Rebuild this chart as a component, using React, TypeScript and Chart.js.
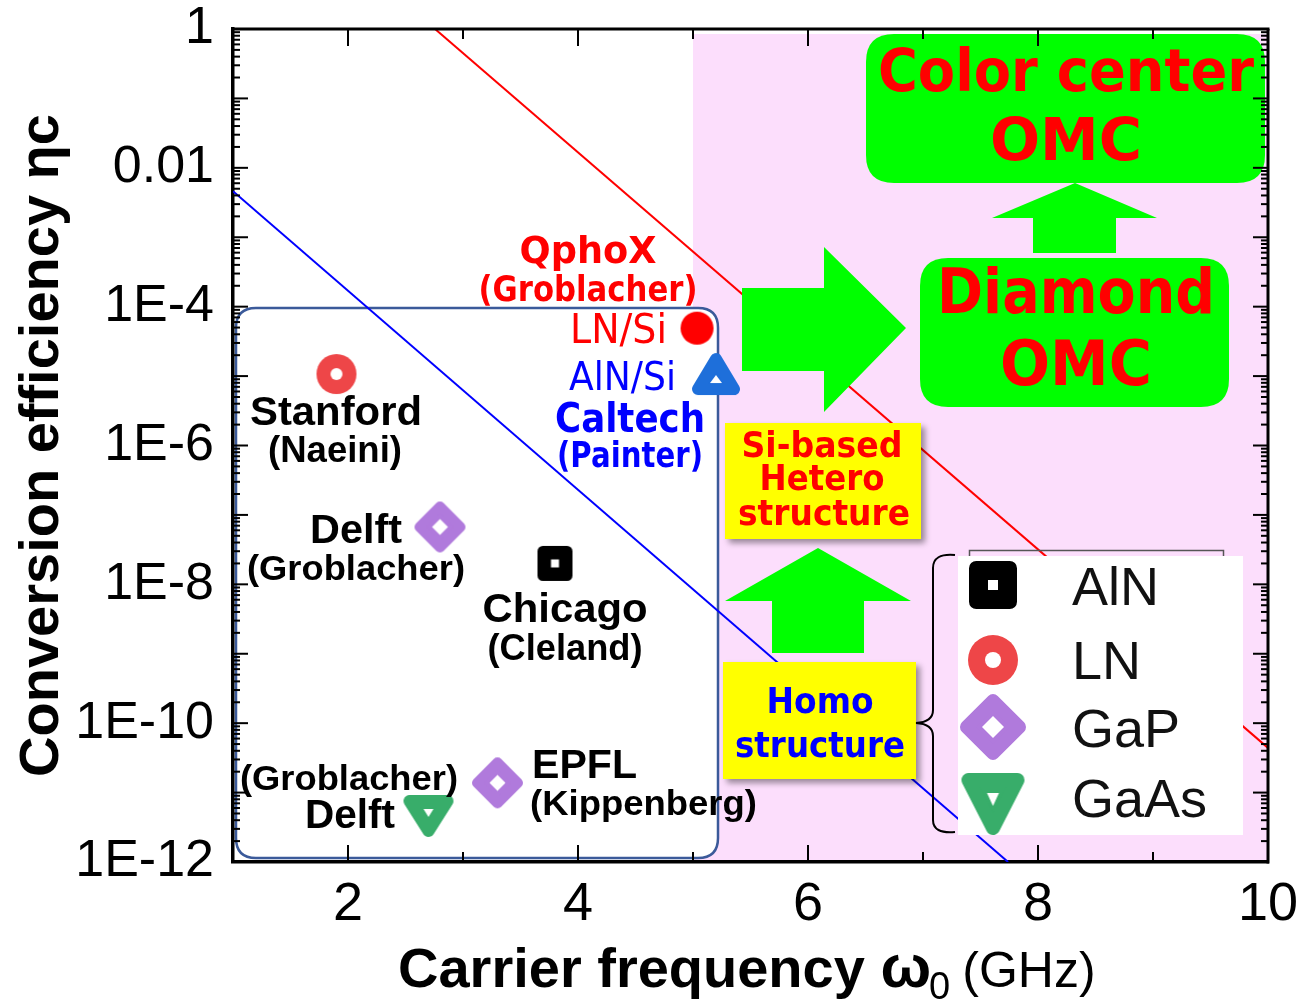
import React, { useEffect, useRef } from 'react';
import { Chart, registerables } from 'chart.js';

Chart.register(...registerables);

// ---------- data ----------
const xTickValues = [2, 4, 6, 8, 10];
const yTickValues = [1e-12, 1e-10, 1e-8, 1e-6, 1e-4, 1e-2, 1];
const yTickLabels = ['1E-12', '1E-10', '1E-8', '1E-6', '1E-4', '0.01', '1'];

const seriesNames = ['AlN', 'LN', 'GaP', 'GaAs', 'LN/Si', 'AlN/Si'];
const alnFreq = [3.8];
const alnEff = [2.0e-8];
const lnFreq = [1.9];
const lnEff = [1.07e-5];
const gapFreq = [2.8, 3.3];
const gapEff = [6.7e-8, 1.38e-11];
const gaasFreq = [2.7];
const gaasEff = [4.6e-12];
const lnSiFreq = [5.035];
const lnSiEff = [4.9e-5];
const alnSiFreq = [5.2];
const alnSiEff = [1.07e-5];

const redLineFreq = [2.757, 10];
const redLineEff = [1, 4.4e-11];
const blueLineFreq = [1, 7.74];
const blueLineEff = [4.6e-3, 1e-12];

const pinkStartFreq = 5;

// ---------- styles ----------
const ARIAL = '"Liberation Sans", Arial, sans-serif';
const VERDANA = '"DejaVu Sans", Verdana, sans-serif';
const C_LN = '#EE4648';
const C_GAP = '#B07ADC';
const C_GAAS = '#38AD6A';
const C_ALNSI = '#1E6FDA';
const C_LNSI = '#FF0000';
const C_ALN = '#000000';
const GREEN = '#00FF00';
const YELLOW = '#FFFF00';
const PINK = '#FCDEFC';

type Ctx = CanvasRenderingContext2D;

function mk(w: number, h: number, draw: (g: Ctx) => void): HTMLCanvasElement {
  const c = document.createElement('canvas');
  c.width = Math.ceil(w);
  c.height = Math.ceil(h);
  const g = c.getContext('2d') as Ctx;
  g.translate(c.width / 2, c.height / 2);
  draw(g);
  return c;
}

function poly(g: Ctx, pts: number[][], color: string, lw: number) {
  g.beginPath();
  pts.forEach(([px, py], i) => (i ? g.lineTo(px, py) : g.moveTo(px, py)));
  g.closePath();
  g.fillStyle = color;
  g.fill();
  if (lw > 0) {
    g.lineJoin = 'round';
    g.lineWidth = lw;
    g.strokeStyle = color;
    g.stroke();
  }
}

function ringMarker(r: number, hole: number, color: string) {
  return mk(2 * r + 2, 2 * r + 2, (g) => {
    g.beginPath();
    g.arc(0, 0, r, 0, Math.PI * 2);
    g.fillStyle = color;
    g.fill();
    if (hole > 0) {
      g.beginPath();
      g.arc(0, 0, hole, 0, Math.PI * 2);
      g.fillStyle = '#fff';
      g.fill();
    }
  });
}

function diamondMarker(d: number, hole: number, color: string) {
  const lw = d * 0.4;
  const di = d - lw / 2;
  return mk(2 * d + 2, 2 * d + 2, (g) => {
    poly(g, [[0, -di], [di, 0], [0, di], [-di, 0]], color, lw);
    poly(g, [[0, -hole], [hole, 0], [0, hole], [-hole, 0]], '#fff', 0);
  });
}

function squareMarker(s: number, hole: number, color: string) {
  const lw = s * 0.3;
  const si = s / 2 - lw / 2;
  return mk(s + 2, s + 2, (g) => {
    poly(g, [[-si, -si], [si, -si], [si, si], [-si, si]], color, lw);
    g.fillStyle = '#fff';
    g.fillRect(-hole / 2, -hole / 2, hole, hole);
  });
}

function triMarker(w: number, h: number, down: boolean, lw: number, holePts: number[][], color: string) {
  const hw = w / 2 - lw / 2;
  const hh = h / 2 - lw / 2;
  const pts = down
    ? [[-hw, -hh], [hw, -hh], [0, hh]]
    : [[0, -hh], [hw, hh], [-hw, hh]];
  return mk(w + 2, h + 2, (g) => {
    poly(g, pts, color, lw);
    poly(g, holePts, '#fff', 0);
  });
}

function rrect(ctx: Ctx, x: number, y: number, w: number, h: number, r: number) {
  ctx.beginPath();
  ctx.moveTo(x + r, y);
  ctx.lineTo(x + w - r, y);
  ctx.quadraticCurveTo(x + w, y, x + w, y + r);
  ctx.lineTo(x + w, y + h - r);
  ctx.quadraticCurveTo(x + w, y + h, x + w - r, y + h);
  ctx.lineTo(x + r, y + h);
  ctx.quadraticCurveTo(x, y + h, x, y + h - r);
  ctx.lineTo(x, y + r);
  ctx.quadraticCurveTo(x, y, x + r, y);
  ctx.closePath();
}

function txt(
  ctx: Ctx,
  s: string,
  x: number,
  y: number,
  size: number,
  o: { bold?: boolean; family?: string; color?: string; align?: CanvasTextAlign; width?: number } = {}
) {
  ctx.save();
  ctx.font = `${o.bold ? 'bold ' : ''}${size}px ${o.family || ARIAL}`;
  ctx.fillStyle = o.color || '#000';
  ctx.textAlign = o.align || 'center';
  ctx.textBaseline = 'alphabetic';
  ctx.translate(x, y);
  if (o.width) {
    const w = ctx.measureText(s).width;
    const k = Math.max(0.7, Math.min(1.3, o.width / w));
    ctx.scale(k, 1);
  }
  ctx.fillText(s, 0, 0);
  ctx.restore();
}

function arrow(ctx: Ctx, pts: number[][]) {
  ctx.beginPath();
  pts.forEach(([px, py], i) => (i ? ctx.lineTo(px, py) : ctx.moveTo(px, py)));
  ctx.closePath();
  ctx.fillStyle = GREEN;
  ctx.fill();
}

function line(ctx: Ctx, x1: number, y1: number, x2: number, y2: number) {
  ctx.beginPath();
  ctx.moveTo(x1, y1);
  ctx.lineTo(x2, y2);
  ctx.stroke();
}

function pts(fx: number[], fy: number[]) {
  return fx.map((v, i) => ({ x: v, y: fy[i] }));
}

export default function App() {
  const ref = useRef<HTMLCanvasElement>(null);

  useEffect(() => {
    const canvas = ref.current;
    if (!canvas) return;

    const plotMarkers = {
      AlN: squareMarker(35, 8, C_ALN),
      LN: ringMarker(20, 6, C_LN),
      GaP: diamondMarker(25.5, 8, C_GAP),
      GaAs: triMarker(50, 42, true, 12, [[-5, -7], [5, -7], [0, 1]], C_GAAS),
      LNSi: ringMarker(16.5, 0, C_LNSI),
      AlNSi: triMarker(48, 42, false, 12, [[0, 1], [6, 9], [-6, 9]], C_ALNSI),
    };
    const legendMarkers = [
      squareMarker(48, 10, C_ALN),
      ringMarker(25, 8, C_LN),
      diamondMarker(33, 11, C_GAP),
      triMarker(63, 62, true, 14, [[-6, -11], [6, -11], [0, 2]], C_GAAS),
    ];

    const annotations = {
      id: 'annotations',
      beforeDraw(chart: any) {
        const { ctx, chartArea: a, scales } = chart;
        const x = scales.x;
        ctx.save();
        const p5 = x.getPixelForValue(pinkStartFreq);
        ctx.fillStyle = PINK;
        ctx.fillRect(p5, a.top + 5, a.right - p5, a.bottom - a.top - 5);
        // white rounded frame around homo-structure results
        rrect(ctx, 236, 308, 482, 550, 20);
        ctx.fillStyle = '#fff';
        ctx.fill();
        ctx.lineWidth = 2.5;
        ctx.strokeStyle = '#3B5A9A';
        ctx.stroke();
        ctx.restore();
      },
      afterDatasetsDraw(chart: any) {
        const { ctx, chartArea: a, scales } = chart;
        const x = scales.x;
        const y = scales.y;
        ctx.save();

        // green arrows
        arrow(ctx, [[742, 288], [824, 288], [824, 247], [906, 328], [824, 412], [824, 371], [742, 371]]);
        arrow(ctx, [[1033, 253], [1033, 218], [992, 218], [1075, 183], [1157, 218], [1116, 218], [1116, 253]]);
        arrow(ctx, [[772, 653], [772, 601], [725, 601], [818, 548], [911, 601], [864, 601], [864, 653]]);

        // green rounded boxes
        ctx.fillStyle = GREEN;
        rrect(ctx, 866, 34, 399, 149, 28);
        ctx.fill();
        rrect(ctx, 920, 258, 309, 149, 28);
        ctx.fill();
        txt(ctx, 'Color center', 1066, 91, 58, { bold: true, family: VERDANA, color: '#FF0000', width: 376 });
        txt(ctx, 'OMC', 1066, 160, 58, { bold: true, family: VERDANA, color: '#FF0000', width: 152 });
        txt(ctx, 'Diamond', 1076, 313, 62, { bold: true, family: VERDANA, color: '#FF0000', width: 278 });
        txt(ctx, 'OMC', 1076, 385, 62, { bold: true, family: VERDANA, color: '#FF0000', width: 152 });

        // yellow boxes with shadow
        ctx.save();
        ctx.shadowColor = 'rgba(0,0,0,0.4)';
        ctx.shadowBlur = 6;
        ctx.shadowOffsetX = 4;
        ctx.shadowOffsetY = 4;
        ctx.fillStyle = YELLOW;
        ctx.fillRect(725, 423, 196, 116);
        ctx.fillRect(723, 662, 193, 117);
        ctx.restore();
        txt(ctx, 'Si-based', 822, 457, 36, { bold: true, family: VERDANA, color: '#FF0000', width: 161 });
        txt(ctx, 'Hetero', 822, 490, 36, { bold: true, family: VERDANA, color: '#FF0000', width: 125 });
        txt(ctx, 'structure', 824, 525, 36, { bold: true, family: VERDANA, color: '#FF0000', width: 172 });
        txt(ctx, 'Homo', 820, 713, 36, { bold: true, family: VERDANA, color: '#0000FF', width: 107 });
        txt(ctx, 'structure', 820, 757, 36, { bold: true, family: VERDANA, color: '#0000FF', width: 170 });

        // legend
        ctx.strokeStyle = '#555';
        ctx.lineWidth = 1.5;
        ctx.strokeRect(969.5, 550.5, 254, 120);
        ctx.fillStyle = '#fff';
        ctx.fillRect(958, 556, 285, 279);
        const legY = [585, 660, 727, 804];
        const legBase = [605, 679, 747, 817];
        const ds = chart.data.datasets;
        for (let i = 0; i < 4; i++) {
          const m = legendMarkers[i];
          ctx.drawImage(m, 993 - m.width / 2, legY[i] - m.height / 2);
          txt(ctx, ds[i].label, 1072, legBase[i], 54, { color: '#111', align: 'left' });
        }
        // brace
        ctx.strokeStyle = '#000';
        ctx.lineWidth = 2;
        ctx.beginPath();
        ctx.moveTo(955, 555);
        ctx.quadraticCurveTo(933, 553, 933, 568);
        ctx.lineTo(933, 710);
        ctx.quadraticCurveTo(933, 722, 916, 723);
        ctx.quadraticCurveTo(933, 724, 933, 736);
        ctx.lineTo(933, 820);
        ctx.quadraticCurveTo(933, 834, 955, 832);
        ctx.stroke();

        // point labels
        txt(ctx, 'QphoX', 588, 263, 38, { bold: true, family: VERDANA, color: '#FF0000', width: 137 });
        txt(ctx, '(Groblacher)', 588, 301, 36, { bold: true, family: VERDANA, color: '#FF0000', width: 219 });
        txt(ctx, 'LN/Si', 667, 343, 40, { family: VERDANA, color: '#FF0000', align: 'right', width: 97 });
        txt(ctx, 'AlN/Si', 676, 390, 39, { family: VERDANA, color: '#0000FF', align: 'right', width: 107 });
        txt(ctx, 'Caltech', 630, 432, 40, { bold: true, family: VERDANA, color: '#0000FF', width: 150 });
        txt(ctx, '(Painter)', 630, 467, 35, { bold: true, family: VERDANA, color: '#0000FF', width: 146 });
        txt(ctx, 'Stanford', 336, 425, 40, { bold: true, width: 172 });
        txt(ctx, '(Naeini)', 335, 462, 36, { bold: true, width: 134 });
        txt(ctx, 'Delft', 356, 543, 40, { bold: true, width: 92 });
        txt(ctx, '(Groblacher)', 356, 580, 35, { bold: true, width: 218 });
        txt(ctx, 'Chicago', 565, 622, 40, { bold: true, width: 165 });
        txt(ctx, '(Cleland)', 565, 660, 36, { bold: true, width: 155 });
        txt(ctx, 'EPFL', 532, 778, 40, { bold: true, align: 'left', width: 105 });
        txt(ctx, '(Kippenberg)', 530, 815, 35, { bold: true, align: 'left', width: 227 });
        txt(ctx, '(Groblacher)', 349, 790, 35, { bold: true, width: 218 });
        txt(ctx, 'Delft', 350, 828, 40, { bold: true, width: 90 });

        // inward ticks on all four sides
        ctx.strokeStyle = '#000';
        ctx.lineWidth = 2;
        for (let e = -12; e <= 0; e++) {
          const p = y.getPixelForValue(Math.pow(10, e));
          line(ctx, a.left, p, a.left + 15, p);
          line(ctx, a.right, p, a.right - 15, p);
          if (e < 0) {
            for (let k = 2; k <= 9; k++) {
              const q = y.getPixelForValue(k * Math.pow(10, e));
              line(ctx, a.left, q, a.left + 7, q);
              line(ctx, a.right, q, a.right - 7, q);
            }
          }
        }
        for (let v = 1; v <= 10; v++) {
          const p = x.getPixelForValue(v);
          const len = v % 2 === 0 ? 17 : 10;
          line(ctx, p, a.bottom, p, a.bottom - len);
          line(ctx, p, a.top, p, a.top + len);
        }
        // top and right frame
        ctx.lineWidth = 3;
        line(ctx, a.left, a.top, a.right + 1.5, a.top);
        line(ctx, a.right, a.top, a.right, a.bottom + 1.5);

        // x-axis title with subscript and non-bold unit
        ctx.fillStyle = '#000';
        ctx.textAlign = 'left';
        ctx.textBaseline = 'alphabetic';
        ctx.font = `bold 56px ${ARIAL}`;
        const t1 = 'Carrier frequency ';
        const tx = 398;
        ctx.fillText(t1, tx, 987);
        let cx = tx + ctx.measureText(t1).width;
        ctx.font = `bold 60px ${ARIAL}`;
        ctx.fillText('ω', cx, 987);
        cx += ctx.measureText('ω').width;
        ctx.font = `38px ${ARIAL}`;
        ctx.fillText('0', cx - 2, 999);
        cx += ctx.measureText('0').width + 10;
        ctx.font = `50px ${ARIAL}`;
        ctx.fillText('(GHz)', cx, 987);
        ctx.restore();
      },
    };

    const chart = new Chart(canvas, {
      type: 'scatter',
      data: {
        datasets: [
          { label: seriesNames[0], data: pts(alnFreq, alnEff), pointStyle: plotMarkers.AlN, pointRadius: 10 },
          { label: seriesNames[1], data: pts(lnFreq, lnEff), pointStyle: plotMarkers.LN, pointRadius: 10 },
          { label: seriesNames[2], data: pts(gapFreq, gapEff), pointStyle: plotMarkers.GaP, pointRadius: 10 },
          { label: seriesNames[3], data: pts(gaasFreq, gaasEff), pointStyle: plotMarkers.GaAs, pointRadius: 10 },
          { label: seriesNames[4], data: pts(lnSiFreq, lnSiEff), pointStyle: plotMarkers.LNSi, pointRadius: 10 },
          { label: seriesNames[5], data: pts(alnSiFreq, alnSiEff), pointStyle: plotMarkers.AlNSi, pointRadius: 10 },
          {
            label: 'red limit',
            data: pts(redLineFreq, redLineEff),
            showLine: true,
            borderColor: '#FF0000',
            borderWidth: 2,
            pointRadius: 0,
          },
          {
            label: 'blue limit',
            data: pts(blueLineFreq, blueLineEff),
            showLine: true,
            borderColor: '#0000FF',
            borderWidth: 2,
            pointRadius: 0,
          },
        ] as any,
      },
      options: {
        responsive: false,
        animation: false,
        layout: { padding: { top: 29, right: 36, left: 0, bottom: 0 } },
        plugins: {
          legend: { display: false },
          tooltip: { enabled: false },
        },
        scales: {
          x: {
            type: 'linear',
            position: 'bottom',
            min: 1,
            max: 10,
            grid: { display: false, drawTicks: true, tickLength: 11 },
            border: { display: true, width: 3.5, color: '#000' },
            afterBuildTicks: (s: any) => {
              s.ticks = xTickValues.map((v) => ({ value: v }));
            },
            afterFit: (s: any) => {
              s.height = 138;
            },
            ticks: {
              color: '#000',
              padding: 0,
              font: { family: ARIAL, size: 54 },
              callback: (v: any) => String(v),
            },
            title: { display: false, text: 'Carrier frequency ω0 (GHz)' },
          },
          y: {
            type: 'logarithmic',
            position: 'left',
            min: 1e-12,
            max: 1,
            grid: { display: false, drawTicks: true, tickLength: 19 },
            border: { display: true, width: 3.5, color: '#000' },
            afterBuildTicks: (s: any) => {
              s.ticks = yTickValues.map((v) => ({ value: v }));
            },
            afterFit: (s: any) => {
              s.width = 233;
            },
            ticks: {
              color: '#000',
              padding: 0,
              font: { family: ARIAL, size: 52, lineHeight: 1 },
              callback: (v: any) => {
                const i = yTickValues.findIndex((t) => Math.abs(Math.log10(t) - Math.log10(v)) < 1e-6);
                return i >= 0 ? yTickLabels[i] : '';
              },
            },
            title: {
              display: true,
              text: 'Conversion efficiency ηc',
              color: '#000',
              font: { family: ARIAL, size: 56, weight: 'bold' },
              padding: { top: 9, bottom: 0 },
            },
          },
        },
      } as any,
      plugins: [annotations],
    });

    return () => chart.destroy();
  }, []);

  return (
    <div style={{ position: 'absolute', left: 0, top: 0, width: 1304, height: 1000, background: '#fff' }}>
      <canvas ref={ref} width={1304} height={1000} style={{ display: 'block', width: 1304, height: 1000 }} />
    </div>
  );
}
